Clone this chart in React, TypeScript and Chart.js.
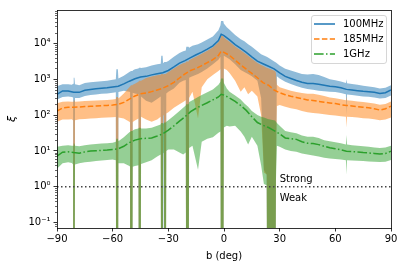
import React, { useEffect, useRef } from 'react';
import { Chart, registerables } from 'chart.js';

Chart.register(...registerables);

// ---------- data ----------
const SERIES_LABELS = ['100MHz', '185MHz', '1GHz'];

// galactic latitude grid for the median curves (deg)
const B = [-90, -87, -84, -81, -78, -75, -72, -69, -66, -63, -60, -57, -54, -51, -48, -45, -42, -39, -36, -33, -30, -27, -24, -21, -18, -15, -12, -9, -6, -3, -1.5, 0, 3, 6, 9, 12, 15, 18, 21, 24, 27, 30, 33, 36, 39, 42, 45, 48, 51, 54, 57, 60, 63, 66, 69, 72, 75, 78, 81, 84, 87, 90];

const XI_100 = [380, 470, 470, 430, 430, 490, 520, 540, 560, 580, 610, 640, 740, 880, 1030, 1150, 1200, 1320, 1420, 1520, 1750, 2200, 2800, 3300, 4000, 4800, 5700, 6900, 8500, 12000, 18000, 16500, 12500, 9200, 7200, 5600, 4200, 3200, 2700, 2300, 1950, 1500, 1200, 1050, 920, 820, 760, 760, 720, 680, 640, 620, 580, 520, 500, 480, 460, 450, 430, 400, 420, 500];
const XI_185 = [130, 158, 165, 165, 168, 172, 175, 178, 182, 186, 190, 198, 225, 280, 340, 390, 410, 450, 500, 560, 660, 820, 1080, 1400, 1750, 2000, 2400, 2900, 3500, 4600, 6000, 5600, 4600, 3400, 2500, 1900, 1450, 1100, 800, 680, 500, 420, 370, 335, 310, 285, 265, 255, 240, 228, 218, 210, 195, 185, 180, 172, 165, 160, 150, 138, 150, 178];
const XI_1G = [7.2, 9.2, 9.5, 9.0, 8.6, 9.4, 9.9, 10.1, 10.3, 10.6, 11, 11.5, 13.5, 17, 20, 22, 22.5, 23, 26, 30, 38, 50, 68, 90, 125, 155, 185, 220, 265, 320, 380, 360, 300, 240, 185, 135, 90, 62, 52, 45, 37, 30, 23, 22, 21, 18, 16.5, 16, 15, 13.5, 12.2, 11.5, 10.8, 9.8, 9.6, 9.4, 9.0, 8.8, 8.5, 8.2, 8.5, 9.8];

// latitude grid for the uncertainty bands (deg)
const XB = [-90, -87, -84, -82, -81.3, -81, -80.6, -80.3, -78, -75, -72, -69, -66, -63, -60, -58.3, -58, -57.2, -56.9, -54, -51, -50.6, -50.3, -49.5, -49.2, -48, -46.1, -45.8, -45, -44.7, -42, -39, -36, -34.1, -33.8, -33.1, -32.8, -32.4, -32.1, -31.4, -31.1, -30, -27, -24, -22, -20.6, -20.3, -19.1, -18.8, -17, -14, -12, -9, -6, -3, -1.9, -1.6, -0.4, -0.1, 1.5, 3, 6, 9, 11, 13, 15, 18, 20, 21.5, 23, 23.5, 27.5, 28, 28.5, 30, 33, 36, 39, 42, 45, 48, 51, 54, 57, 60, 63, 65.7, 66, 66.3, 69, 72, 75, 78, 81, 84, 87, 90];

const HI_100 = [640, 720, 720, 700, 750, 1100, 1100, 720, 680, 780, 820, 850, 880, 910, 960, 1000, 1900, 1900, 1050, 1250, 1600, 1650, 1700, 1700, 1750, 1900, 2000, 2100, 2100, 2050, 2150, 2400, 2600, 2700, 4500, 4500, 2800, 2800, 3000, 3000, 3000, 3200, 4200, 5400, 6000, 6300, 8000, 8000, 7500, 8500, 9500, 10500, 12700, 15500, 23000, 32000, 42000, 42000, 36000, 28000, 24000, 17000, 13000, 11500, 9500, 8000, 6000, 5000, 4600, 4200, 4100, 3000, 2900, 2800, 2400, 1950, 1750, 1550, 1400, 1350, 1400, 1300, 1150, 1000, 930, 860, 780, 1000, 770, 740, 700, 660, 630, 600, 550, 580, 680];
const LO_100 = [270, 320, 330, 320, 310, 1e-6, 1e-6, 300, 300, 340, 360, 375, 390, 400, 420, 430, 1e-6, 1e-6, 440, 480, 450, 440, 1e-6, 1e-6, 420, 400, 380, 1e-6, 1e-6, 330, 250, 220, 280, 330, 1e-6, 1e-6, 350, 350, 1e-6, 1e-6, 400, 450, 550, 800, 900, 950, 1e-6, 1e-6, 1100, 1200, 1400, 1600, 2000, 2600, 3500, 4200, 1e-6, 1e-6, 4500, 4000, 3600, 2600, 1800, 1600, 1400, 1200, 900, 300, 3, 2.2, 1e-6, 1e-6, 2.5, 1200, 1050, 850, 740, 650, 580, 530, 510, 480, 460, 450, 440, 410, 380, 100, 375, 360, 345, 330, 325, 310, 290, 300, 350];

const HI_185 = [215, 235, 240, 236, 236, 260, 260, 235, 240, 245, 250, 255, 260, 265, 270, 280, 320, 320, 290, 400, 600, 640, 680, 680, 700, 750, 850, 900, 900, 900, 1080, 1190, 1280, 1330, 1400, 1400, 1360, 1360, 1400, 1400, 1450, 1580, 1980, 2500, 2800, 2900, 3100, 3100, 3400, 3800, 4500, 5100, 6200, 7600, 10800, 14000, 16000, 16000, 14500, 12500, 11000, 8200, 6400, 5400, 4500, 3700, 2850, 2500, 2300, 2100, 2050, 1700, 1500, 700, 600, 530, 480, 440, 410, 390, 390, 370, 340, 310, 295, 275, 260, 330, 258, 250, 240, 230, 220, 210, 195, 205, 240];
const LO_185 = [65, 75, 75, 76, 70, 1e-6, 1e-6, 72, 76, 78, 80, 82, 84, 85, 87, 88, 1e-6, 1e-6, 85, 80, 65, 62, 1e-6, 1e-6, 64, 70, 80, 1e-6, 1e-6, 90, 75, 65, 75, 90, 1e-6, 1e-6, 95, 100, 1e-6, 1e-6, 110, 120, 160, 200, 230, 260, 1e-6, 1e-6, 300, 450, 80, 600, 1000, 1300, 1700, 1900, 1e-6, 1e-6, 2000, 1800, 1500, 900, 450, 600, 380, 480, 330, 100, 2.5, 2.2, 1e-6, 1e-6, 2.5, 180, 190, 170, 155, 145, 130, 120, 115, 110, 105, 100, 98, 92, 90, 45, 90, 88, 85, 82, 80, 76, 72, 75, 85];

const HI_1G = [13, 14, 14.5, 14, 14, 16, 16, 14, 13.5, 14.5, 15, 15.5, 16, 16.5, 17, 18, 22, 22, 18.5, 24, 33, 34, 36, 36, 37, 40, 42, 44, 44, 42, 42, 44, 50, 55, 60, 60, 58, 60, 62, 62, 65, 72, 95, 130, 160, 185, 200, 200, 230, 260, 320, 360, 430, 520, 700, 850, 1050, 1050, 800, 550, 450, 350, 270, 210, 170, 130, 100, 90, 85, 80, 78, 70, 65, 60, 50, 36, 33, 31, 27, 25, 25, 23, 20, 18.5, 17.5, 16.5, 15, 28, 15, 14.5, 14, 13.5, 13, 12.5, 12, 12.5, 14];
const LO_1G = [3.2, 4.5, 4.8, 4.6, 4.2, 1e-6, 1e-6, 4.2, 4.5, 4.8, 5, 5.2, 5.4, 5.6, 5.8, 5.5, 1e-6, 1e-6, 4.5, 4.5, 3.8, 3.6, 1e-6, 1e-6, 3.6, 3.8, 4, 1e-6, 1e-6, 4.3, 4.8, 5.5, 7, 8, 1e-6, 1e-6, 8.5, 9, 1e-6, 1e-6, 10, 11, 11, 9, 8, 9, 1e-6, 1e-6, 12, 14, 3, 18, 22, 24, 32, 35, 1e-6, 1e-6, 45, 50, 48, 50, 35, 25, 15, 25, 14, 4, 1.2, 1.1, 1e-6, 1e-6, 1.5, 14, 13, 11, 10, 9.5, 8.5, 8, 7.5, 7, 6.5, 6.2, 6, 5.8, 5.5, 2.2, 5.5, 5.4, 5.3, 5.2, 5.1, 5, 4.9, 5, 5.6];

const X_TICKS = [-90, -60, -30, 0, 30, 60, 90];
const Y_TICKS = [0.1, 1, 10, 100, 1000, 10000];
const Y_DECADES = [0.01, 0.1, 1, 10, 100, 1000, 10000];
const THRESHOLD = 1;
const STRONG = { text: 'Strong', x: 30, y: 1.4 };
const WEAK = { text: 'Weak', x: 30, y: 0.39 };

// ---------- styles ----------
const COLORS = ['#1f77b4', '#ff7f0e', '#2ca02c'];
const FILLS = ['rgba(31,119,180,0.5)', 'rgba(255,127,14,0.5)', 'rgba(44,160,44,0.5)'];
const DASHES = [[], [5.5, 2.4], [9.6, 2.4, 1.5, 2.4]];
const FONT = 'DejaVu Sans';

const pts = (xs: number[], ys: number[]) => xs.map((x, i) => ({ x, y: ys[i] }));
const SUP: Record<string, string> = { '-': '\u207B', '0': '\u2070', '1': '\u00B9', '2': '\u00B2', '3': '\u00B3', '4': '\u2074', '5': '\u2075', '6': '\u2076', '7': '\u2077', '8': '\u2078', '9': '\u2079' };
const fmtPow = (v: number) => '10' + String(Math.round(Math.log10(v))).split('').map((c) => SUP[c]).join('');
const fmtX = (v: number) => (v < 0 ? '\u2212' + Math.abs(v) : String(v));

const decorPlugin = {
  id: 'decor',
  afterDraw(chart: any) {
    const { ctx, chartArea: a, scales } = chart;
    const y = scales.y;
    const x = scales.x;
    ctx.save();
    // minor y ticks
    ctx.strokeStyle = '#000';
    ctx.lineWidth = 0.6;
    for (const d of Y_DECADES) {
      for (let m = 2; m <= 9; m++) {
        const v = d * m;
        if (v < y.min || v > y.max) continue;
        const py = Math.round(y.getPixelForValue(v)) + 0.5;
        ctx.beginPath();
        ctx.moveTo(a.left - 2, py);
        ctx.lineTo(a.left, py);
        ctx.stroke();
      }
    }
    // frame
    ctx.lineWidth = 0.8;
    ctx.strokeRect(Math.round(a.left) + 0.5, Math.round(a.top) + 0.5, Math.round(a.right - a.left), Math.round(a.bottom - a.top));
    // annotations
    ctx.fillStyle = '#000';
    ctx.font = `10px "${FONT}"`;
    ctx.textAlign = 'left';
    ctx.textBaseline = 'alphabetic';
    ctx.fillText(STRONG.text, x.getPixelForValue(STRONG.x), y.getPixelForValue(STRONG.y));
    ctx.fillText(WEAK.text, x.getPixelForValue(WEAK.x), y.getPixelForValue(WEAK.y));
    // legend
    const w = 75, h = 48;
    const lx = a.right - 5 - w, ly = a.top + 5;
    ctx.beginPath();
    ctx.roundRect(lx + 0.5, ly + 0.5, w, h, 2.5);
    ctx.fillStyle = 'rgba(255,255,255,0.8)';
    ctx.fill();
    ctx.strokeStyle = '#cccccc';
    ctx.lineWidth = 0.8;
    ctx.stroke();
    SERIES_LABELS.forEach((lab, i) => {
      const yy = ly + 9 + i * 15;
      ctx.beginPath();
      ctx.setLineDash(DASHES[i]);
      ctx.strokeStyle = COLORS[i];
      ctx.lineWidth = 1.5;
      ctx.moveTo(lx + 3, yy);
      ctx.lineTo(lx + 24, yy);
      ctx.stroke();
      ctx.setLineDash([]);
      ctx.fillStyle = '#000';
      ctx.textBaseline = 'middle';
      ctx.fillText(lab, lx + 32, yy + 0.5);
    });
    ctx.restore();
  },
};

export default function App() {
  const ref = useRef<HTMLCanvasElement>(null);
  useEffect(() => {
    if (!ref.current) return;
    const centers = [XI_100, XI_185, XI_1G];
    const his = [HI_100, HI_185, HI_1G];
    const los = [LO_100, LO_185, LO_1G];
    const datasets: any[] = [];
    centers.forEach((c, i) => {
      datasets.push({
        label: SERIES_LABELS[i],
        data: pts(B, c),
        borderColor: COLORS[i],
        borderWidth: 1.5,
        borderDash: DASHES[i],
        pointRadius: 0,
        fill: false,
        tension: 0,
        order: 1,
      });
    });
    datasets.push({
      label: 'threshold',
      data: [{ x: X_TICKS[0], y: THRESHOLD }, { x: X_TICKS[X_TICKS.length - 1], y: THRESHOLD }],
      borderColor: '#444',
      borderWidth: 1.5,
      borderDash: [1.5, 2.5],
      pointRadius: 0,
      fill: false,
      order: 0,
    });
    his.forEach((hi, i) => {
      const loIndex = datasets.length + 1;
      datasets.push({
        label: SERIES_LABELS[i] + ' hi',
        data: pts(XB, hi),
        borderWidth: 0,
        borderColor: 'transparent',
        backgroundColor: FILLS[i],
        pointRadius: 0,
        fill: loIndex,
        tension: 0,
        order: 6 - i,
      });
      datasets.push({
        label: SERIES_LABELS[i] + ' lo',
        data: pts(XB, los[i]),
        borderWidth: 0,
        borderColor: 'transparent',
        pointRadius: 0,
        fill: false,
        tension: 0,
        order: 10,
      });
    });

    const chart = new Chart(ref.current, {
      type: 'line',
      data: { datasets },
      options: {
        animation: false,
        responsive: false,
        events: [],
        layout: { padding: { top: 10, right: 14, left: 0, bottom: 0 } },
        plugins: { legend: { display: false }, tooltip: { enabled: false } },
        scales: {
          x: {
            type: 'linear',
            min: -90,
            max: 90,
            afterBuildTicks: (s: any) => { s.ticks = X_TICKS.map((v) => ({ value: v })); },
            afterFit: (s: any) => { s.height = 38; },
            border: { display: false },
            grid: { drawOnChartArea: false, drawTicks: true, tickLength: 3.5, tickColor: '#000', tickWidth: 0.8 },
            ticks: { color: '#000', font: { family: FONT, size: 10 }, padding: 2, maxRotation: 0, autoSkip: false, callback: (v: any) => fmtX(Number(v)) },
            title: { display: true, text: 'b (deg)', color: '#000', font: { family: FONT, size: 10 }, padding: { top: 0, bottom: 4 } },
          },
          y: {
            type: 'logarithmic',
            min: 0.071,
            max: 85000,
            afterBuildTicks: (s: any) => { s.ticks = Y_TICKS.map((v) => ({ value: v })); },
            afterFit: (s: any) => { s.width = 57; },
            border: { display: false },
            grid: { drawOnChartArea: false, drawTicks: true, tickLength: 3.5, tickColor: '#000', tickWidth: 0.8 },
            ticks: { color: '#000', font: { family: FONT, size: 10 }, padding: 3, autoSkip: false, callback: (v: any) => fmtPow(Number(v)) },
            title: { display: true, text: '\u03BE', color: '#000', font: { family: FONT, size: 11, style: 'italic' }, padding: { top: 6, bottom: 0 } },
          },
        },
      },
      plugins: [decorPlugin],
    });
    return () => chart.destroy();
  }, []);
  return (
    <div style={{ position: 'absolute', left: 0, top: 0, width: 405, height: 266, background: '#fff' }}>
      <canvas ref={ref} width={405} height={266} style={{ display: 'block' }} />
    </div>
  );
}
